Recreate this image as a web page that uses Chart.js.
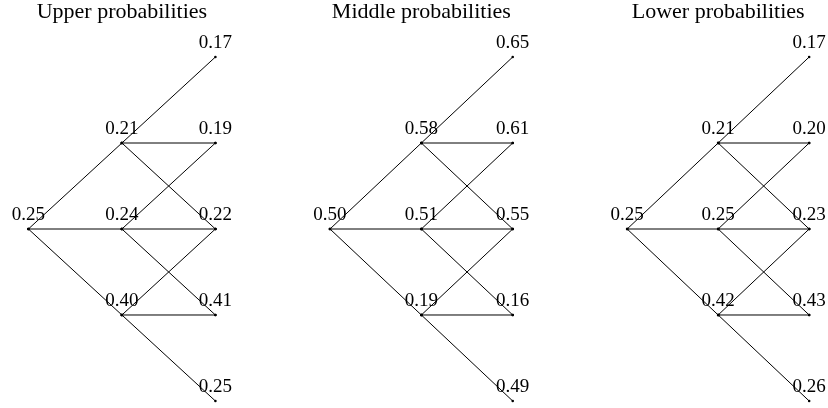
<!DOCTYPE html>
<html>
<head>
<meta charset="utf-8">
<script src="https://cdn.jsdelivr.net/npm/chart.js@4/dist/chart.umd.min.js"></script>
<style>
  html, body { margin: 0; padding: 0; background: #ffffff; }
  #wrap { position: relative; width: 828px; height: 408px; overflow: hidden; }
  canvas { position: absolute; top: 0; }
</style>
</head>
<body>
<div id="wrap">
  <canvas id="c0" width="276" height="408" style="left:0px"></canvas>
  <canvas id="c1" width="276" height="408" style="left:276px"></canvas>
  <canvas id="c2" width="276" height="408" style="left:552px"></canvas>
</div>
<script>
// Tree structure: time step and state of each node
const nodeSteps  = [0, 1, 1, 1, 2, 2, 2, 2, 2];
const nodeStates = [0, 1, 0, -1, 2, 1, 0, -1, -2];

// Titles
const titles = ["Upper probabilities", "Middle probabilities", "Lower probabilities"];

// Probabilities at each node (same order as nodeSteps / nodeStates)
const upperProbs  = [0.25, 0.21, 0.24, 0.40, 0.17, 0.19, 0.22, 0.41, 0.25];
const middleProbs = [0.50, 0.58, 0.51, 0.19, 0.65, 0.61, 0.55, 0.16, 0.49];
const lowerProbs  = [0.25, 0.21, 0.25, 0.42, 0.17, 0.20, 0.23, 0.43, 0.26];

const trees = [upperProbs, middleProbs, lowerProbs];

// x-axis ranges per panel (layout)
const xRanges = [[-0.3035, 2.648], [-0.591, 2.430], [-0.826, 2.207]];
const yRange = [-2.0814, 2.6628];

const serif = "'Liberation Serif', 'Times New Roman', Times, serif";

function buildEdges() {
  const edges = [];
  for (let i = 0; i < nodeSteps.length; i++) {
    if (nodeSteps[i] >= 2) continue;
    for (const d of [1, 0, -1]) {
      const j = nodeSteps.findIndex((s, k) => s === nodeSteps[i] + 1 && nodeStates[k] === nodeStates[i] + d);
      if (j >= 0) edges.push([i, j]);
    }
  }
  return edges;
}
const edges = buildEdges();

const labelPlugin = {
  id: 'treeLabels',
  afterDatasetsDraw(chart, args, opts) {
    const ctx = chart.ctx;
    const xs = chart.scales.x, ys = chart.scales.y;
    ctx.save();
    ctx.fillStyle = '#000';
    ctx.textAlign = 'center';
    ctx.textBaseline = 'alphabetic';
    ctx.font = '19px ' + serif;
    opts.values.forEach((v, i) => {
      const px = xs.getPixelForValue(nodeSteps[i]);
      const py = ys.getPixelForValue(nodeStates[i]);
      ctx.fillText(v.toFixed(2), px, py - 9);
    });
    ctx.font = '22px ' + serif;
    ctx.fillText(opts.title, xs.getPixelForValue(1), 18);
    ctx.restore();
  }
};

trees.forEach((probs, t) => {
  const datasets = edges.map(([a, b]) => ({
    data: [{x: nodeSteps[a], y: nodeStates[a]}, {x: nodeSteps[b], y: nodeStates[b]}],
    showLine: true,
    borderColor: '#000',
    borderWidth: 1,
    pointRadius: 1.3,
    pointBackgroundColor: '#000',
    pointBorderWidth: 0,
    fill: false,
    clip: false
  }));
  new Chart(document.getElementById('c' + t), {
    type: 'scatter',
    data: { datasets },
    options: {
      responsive: false,
      animation: false,
      devicePixelRatio: 1,
      layout: { padding: 0, autoPadding: false },
      plugins: {
        legend: { display: false },
        tooltip: { enabled: false },
        title: { display: false },
        treeLabels: { values: probs, title: titles[t] }
      },
      scales: {
        x: { type: 'linear', display: false, min: xRanges[t][0], max: xRanges[t][1] },
        y: { type: 'linear', display: false, min: yRange[0], max: yRange[1] }
      }
    },
    plugins: [labelPlugin]
  });
});
</script>
</body>
</html>
